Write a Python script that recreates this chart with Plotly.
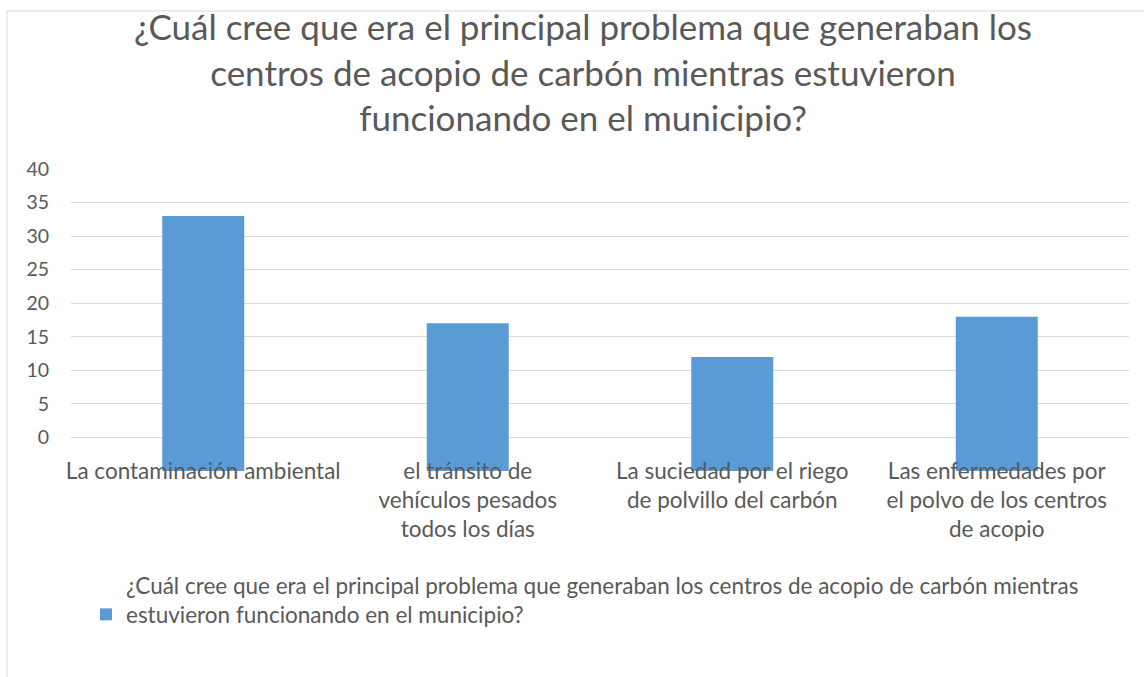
import plotly.graph_objects as go

categories = [
    "La contaminación ambiental",
    "el tránsito de<br>vehículos pesados<br>todos los días",
    "La suciedad por el riego<br>de polvillo del carbón",
    "Las enfermedades por<br>el polvo de los centros<br>de acopio",
]
values = [33, 17, 12, 18]
axis_floor = -5
y_tick_values = [0, 5, 10, 15, 20, 25, 30, 35, 40]
grid_values = [-5, 0, 5, 10, 15, 20, 25, 30, 35]
series_name = ("¿Cuál cree que era el principal problema que generaban los centros de acopio de carbón mientras"
               "<br>estuvieron funcionando en el municipio?")
title_text = ("¿Cuál cree que era el principal problema que generaban los<br>"
              "centros de acopio de carbón mientras estuvieron<br>"
              "funcionando en el municipio?")

FONT = "Lato, Calibri, Carlito, sans-serif"
GRAY = "#595959"
GRID = "#d9d9d9"

W, H = 1144, 677
ml = 71
mr = 15
mt = 169
mb = H - 471
pw = W - ml - mr
ph = H - mt - mb

def px_x(x):
    return (x - ml) / pw

def px_y(y):
    return (H - mb - y) / ph

fig = go.Figure()
fig.add_trace(go.Bar(
    x=categories,
    y=[v - axis_floor for v in values],
    base=axis_floor,
    name=series_name,
    marker=dict(color="#5b9bd5", line=dict(width=0)),
    width=0.31,
))
# helper trace so the secondary axis (top label only) is rendered
fig.add_trace(go.Scatter(x=[categories[0]], y=[None], yaxis="y2", showlegend=False,
                         hoverinfo="skip", mode="markers"))

fig.update_layout(
    width=W, height=H, autosize=False,
    margin=dict(l=ml, r=mr, t=mt, b=mb),
    paper_bgcolor="white", plot_bgcolor="white",
    font=dict(family=FONT, color=GRAY, size=22),
    title=dict(text=title_text, x=583 / W, xref="container", xanchor="center",
               y=1 - 40 / H, yanchor="middle",
               font=dict(size=35, color=GRAY, family=FONT)),
    xaxis=dict(
        showgrid=False, zeroline=False, showline=False, ticks="",
        tickfont=dict(size=22.5, color=GRAY),
        ticklabelstandoff=-16,
    ),
    yaxis=dict(
        range=[axis_floor, 40], tickvals=grid_values,
        ticktext=["" if v < 0 else str(v) for v in grid_values],
        showgrid=True, gridcolor=GRID, gridwidth=1, zeroline=False,
        showline=False, ticks="", tickfont=dict(size=19.5, color=GRAY),
        ticklabelstandoff=21,
    ),
    yaxis2=dict(
        range=[axis_floor, 40], overlaying="y", side="left",
        tickvals=[y_tick_values[-1]], showgrid=False, zeroline=False,
        showline=False, ticks="", tickfont=dict(size=19.5, color=GRAY),
        ticklabelstandoff=21,
    ),
    showlegend=True,
    legend=dict(
        orientation="h", x=px_x(86), xanchor="left", y=px_y(564), yanchor="top",
        valign="bottom", font=dict(size=22.5, color=GRAY), itemwidth=30,
        bgcolor="rgba(0,0,0,0)",
    ),
    shapes=[dict(type="rect", xref="paper", yref="paper",
                 x0=px_x(7), x1=px_x(1170), y0=px_y(720), y1=px_y(11),
                 line=dict(color=GRID, width=1), fillcolor="rgba(0,0,0,0)", layer="below")],
)

fig.write_html("out.html",
               config={"displayModeBar": False},
               post_script="document.body.style.margin='0';document.body.style.overflow='hidden';")
